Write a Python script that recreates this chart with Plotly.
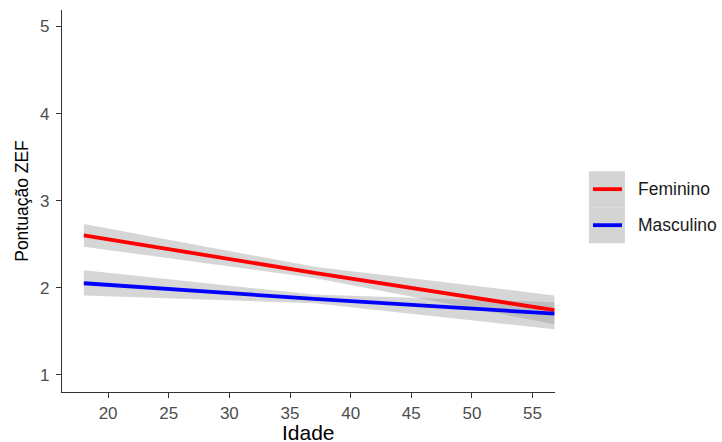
import plotly.graph_objects as go

# Data (fitted lines with confidence bands)
age = [18, 37, 56.8]
fem_fit = [2.60, 2.17, 1.74]
fem_lo = [2.47, 2.11, 1.58]
fem_hi = [2.73, 2.24, 1.91]
masc_fit = [2.05, 1.87, 1.70]
masc_lo = [1.91, 1.82, 1.52]
masc_hi = [2.20, 1.92, 1.83]
groups = ["Feminino", "Masculino"]
colors = ["#ff0000", "#0000ff"]
x_ticks = [20, 25, 30, 35, 40, 45, 50, 55]
y_ticks = [1, 2, 3, 4, 5]
x_title = "Idade"
y_title = "Pontuação ZEF"

W, H = 722, 442
L, T, R_, B = 61.7, 10.0, 555.0, 391.7
pw, ph = R_ - L, B - T


def px(x):
    return (x - L) / pw


def py(y):
    return (B - y) / ph


band_fill = "rgba(153,153,153,0.4)"
fig = go.Figure()
for name, fit, lo, hi, col in [
    (groups[0], fem_fit, fem_lo, fem_hi, colors[0]),
    (groups[1], masc_fit, masc_lo, masc_hi, colors[1]),
]:
    fig.add_trace(go.Scatter(x=age, y=hi, mode="lines", line=dict(width=0),
                             showlegend=False, hoverinfo="skip"))
    fig.add_trace(go.Scatter(x=age, y=lo, mode="lines", line=dict(width=0),
                             fill="tonexty", fillcolor=band_fill,
                             showlegend=False, hoverinfo="skip"))
for name, fit, col in [(groups[0], fem_fit, colors[0]), (groups[1], masc_fit, colors[1])]:
    fig.add_trace(go.Scatter(x=age, y=fit, mode="lines", name=name,
                             line=dict(color=col, width=3.8), showlegend=False))

# Manual legend (ggplot style keys with grey band background)
shapes = []
annotations = []
key_x0, key_x1 = 589, 625
key_tops = [171, 207]
for i, (name, col) in enumerate(zip(groups, colors)):
    t = key_tops[i]
    shapes.append(dict(type="rect", xref="paper", yref="paper",
                       x0=px(key_x0), x1=px(key_x1), y0=py(t + 36), y1=py(t),
                       fillcolor="#d4d4d4", line=dict(width=0), layer="above"))
    yc = t + 18
    shapes.append(dict(type="line", xref="paper", yref="paper",
                       x0=px(593), x1=px(622), y0=py(yc), y1=py(yc),
                       line=dict(color=col, width=3.8), layer="above"))
    annotations.append(dict(text=name, xref="paper", yref="paper",
                            x=px(636), y=py(yc), xanchor="left", yanchor="middle",
                            showarrow=False,
                            font=dict(family="Liberation Sans", size=17.5, color="#1a1a1a")))

# x-axis title (placed like ggplot, near the bottom edge)
annotations.append(dict(text=x_title, xref="paper", yref="paper",
                        x=0.5, y=py(420), xanchor="center", yanchor="top",
                        showarrow=False, borderpad=0,
                        font=dict(family="Liberation Sans", size=21, color="#000000")))

fig.update_layout(
    width=W, height=H,
    margin=dict(l=L, r=W - R_, t=T, b=H - B, pad=0, autoexpand=False),
    paper_bgcolor="white", plot_bgcolor="white",
    shapes=shapes, annotations=annotations,
    showlegend=False,
    font=dict(family="Liberation Sans"),
)
fig.update_xaxes(
    range=[16.2, 56.85], tickvals=x_ticks, ticktext=[str(v) for v in x_ticks],
    automargin=False,
    showgrid=False, zeroline=False, showline=True, linecolor="#333333", linewidth=1.2,
    ticks="outside", ticklen=5, tickwidth=1.1, tickcolor="#333333",
    ticklabelstandoff=0,
    tickfont=dict(family="Liberation Sans", size=17, color="#4d4d4d"),
)
fig.update_yaxes(
    range=[0.8, 5.19], tickvals=y_ticks, ticktext=[str(v) for v in y_ticks],
    automargin=False,
    showgrid=False, zeroline=False, showline=True, linecolor="#333333", linewidth=1.2,
    ticks="outside", ticklen=5, tickwidth=1.1, tickcolor="#333333",
    ticklabelstandoff=3,
    tickfont=dict(family="Liberation Sans", size=17, color="#4d4d4d"),
    title=dict(text=y_title, font=dict(family="Liberation Sans", size=17.5, color="#000000"),
               standoff=6),
)

fig.write_html(
    "out.html",
    config={"displayModeBar": False},
    post_script="document.body.style.margin='0';document.documentElement.style.overflow='hidden';",
)
